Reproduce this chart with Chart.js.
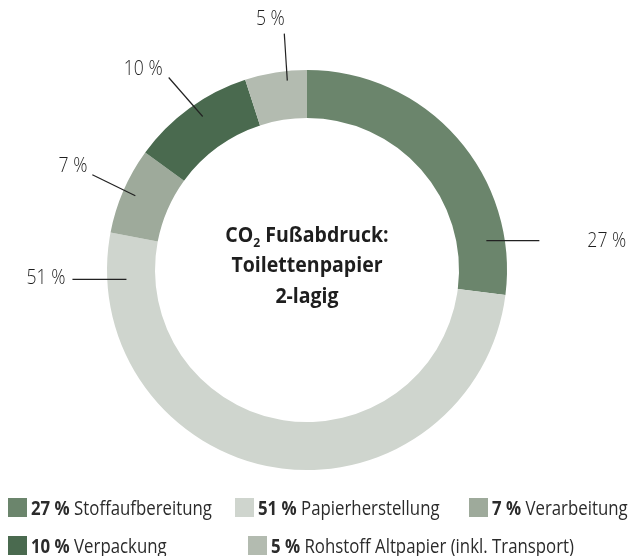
<!DOCTYPE html>
<html>
<head>
<meta charset="utf-8">
<script src="https://cdn.jsdelivr.net/npm/chart.js@4/dist/chart.umd.min.js"></script>
<style>
  html, body { margin: 0; padding: 0; background: #fff; }
</style>
</head>
<body>
<canvas id="c" width="633" height="556"></canvas>
<script>
// Anteile am CO2-Fussabdruck, im Uhrzeigersinn ab 12 Uhr
const labels = ['Stoffaufbereitung', 'Papierherstellung', 'Verarbeitung', 'Verpackung', 'Rohstoff Altpapier (inkl. Transport)']
const values = [27, 51, 7, 10, 5]
const colors = ['#6b856c', '#cfd5ce', '#9eaa9b', '#4a6a4f', '#b3bbb0']
const centerLines = ['Fußabdruck:', 'Toilettenpapier', '2-lagig']

// Lage der Beschriftungen (Anker im Segment, Linienende, Textversatz)
const callouts = [
    {frac: 0.83, r: 0.62, dx: 53, dy: 0, tx: 48, ty: 1, align: 'left'},
    {frac: 0.925, r: 0.6, dx: -54, dy: 0, tx: -7, ty: -1, align: 'right'},
    {frac: 0.5, r: 0.73, dx: -43, dy: -21, tx: -5, ty: -8, align: 'right'},
    {frac: 0.55, r: 0.7, dx: -34, dy: -39, tx: -6, ty: -8, align: 'right'},
    {frac: 0.67, r: 0.8, dx: -3, dy: -47, tx: -14, ty: -14, align: 'center'}
]

// Legende: Kaestchen links oben, zwei Zeilen wie im Original
const legendPos = [[8, 498], [235, 498], [469, 498], [8, 536], [248, 536]]

const SX = 0.84
const FONT = '"Open Sans", sans-serif'

// Text mit horizontaler Stauchung zeichnen (schmale Schrift nachahmen)
function squeezeText(ctx, text, x, y, align, sx) {
    let w = ctx.measureText(text).width * sx
    let left = x
    if (align === 'right') left = x - w
    if (align === 'center') left = x - w / 2
    ctx.save()
    ctx.translate(left, y)
    ctx.scale(sx, 1)
    ctx.textAlign = 'left'
    ctx.fillText(text, 0, 0)
    ctx.restore()
    return w
}

const calloutPlugin = {
    id: 'callouts',
    afterDatasetsDraw(chart) {
        let ctx = chart.ctx
        let meta = chart.getDatasetMeta(0)
        ctx.save()
        meta.data.forEach((arc, i) => {
            let c = callouts[i]
            let p = arc.getProps(['x', 'y', 'startAngle', 'endAngle', 'innerRadius', 'outerRadius'], true)
            let a = p.startAngle + c.frac * (p.endAngle - p.startAngle)
            let rr = p.innerRadius + c.r * (p.outerRadius - p.innerRadius)
            let x0 = p.x + Math.cos(a) * rr
            let y0 = p.y + Math.sin(a) * rr
            let x1 = x0 + c.dx
            let y1 = y0 + c.dy
            ctx.strokeStyle = '#222'
            ctx.lineWidth = 1.2
            ctx.beginPath()
            ctx.moveTo(x0, y0)
            ctx.lineTo(x1, y1)
            ctx.stroke()
            ctx.fillStyle = '#1f1f1f'
            ctx.font = '300 20px ' + FONT
            ctx.textBaseline = 'middle'
            squeezeText(ctx, values[i] + ' %', x1 + c.tx, y1 + c.ty, c.align, 0.88)
        })

        // Text in der Mitte
        let m = meta.data[0]
        let cx = m.x
        let cy = m.y
        let sc = 0.93
        ctx.fillStyle = '#1e1e1e'
        ctx.textBaseline = 'alphabetic'
        let first = ' ' + centerLines[0]
        ctx.font = 'bold 21px ' + FONT
        let wCo = ctx.measureText('CO').width * sc
        let wFirst = ctx.measureText(first).width * sc
        ctx.font = 'bold 13px ' + FONT
        let wSub = ctx.measureText('2').width * sc
        let start = cx - (wCo + wSub + wFirst) / 2
        ctx.font = 'bold 21px ' + FONT
        squeezeText(ctx, 'CO', start, cy - 28, 'left', sc)
        ctx.font = 'bold 13px ' + FONT
        squeezeText(ctx, '2', start + wCo, cy - 23, 'left', sc)
        ctx.font = 'bold 21px ' + FONT
        squeezeText(ctx, first, start + wCo + wSub, cy - 28, 'left', sc)
        squeezeText(ctx, centerLines[1], cx, cy + 2, 'center', sc)
        squeezeText(ctx, centerLines[2], cx, cy + 33, 'center', sc)

        // Legende
        ctx.textBaseline = 'alphabetic'
        labels.forEach((l, i) => {
            let bx = legendPos[i][0]
            let by = legendPos[i][1]
            ctx.fillStyle = colors[i]
            ctx.fillRect(bx, by, 19, 19)
            ctx.fillStyle = '#2b2b2b'
            ctx.font = 'bold 20px ' + FONT
            let w = squeezeText(ctx, values[i] + ' %', bx + 23, by + 17, 'left', SX)
            ctx.font = '20px ' + FONT
            squeezeText(ctx, ' ' + l, bx + 23 + w, by + 17, 'left', SX)
        })
        ctx.restore()
    }
}

new Chart(document.getElementById('c'), {
    type: 'doughnut',
    data: {
        labels: labels,
        datasets: [{
            data: values,
            backgroundColor: colors,
            borderWidth: 0
        }]
    },
    options: {
        responsive: false,
        animation: false,
        cutout: '76%',
        layout: { padding: { left: 107, right: 126, top: 70, bottom: 86 } },
        plugins: {
            legend: { display: false },
            tooltip: { enabled: false }
        }
    },
    plugins: [calloutPlugin]
})
</script>
</body>
</html>
